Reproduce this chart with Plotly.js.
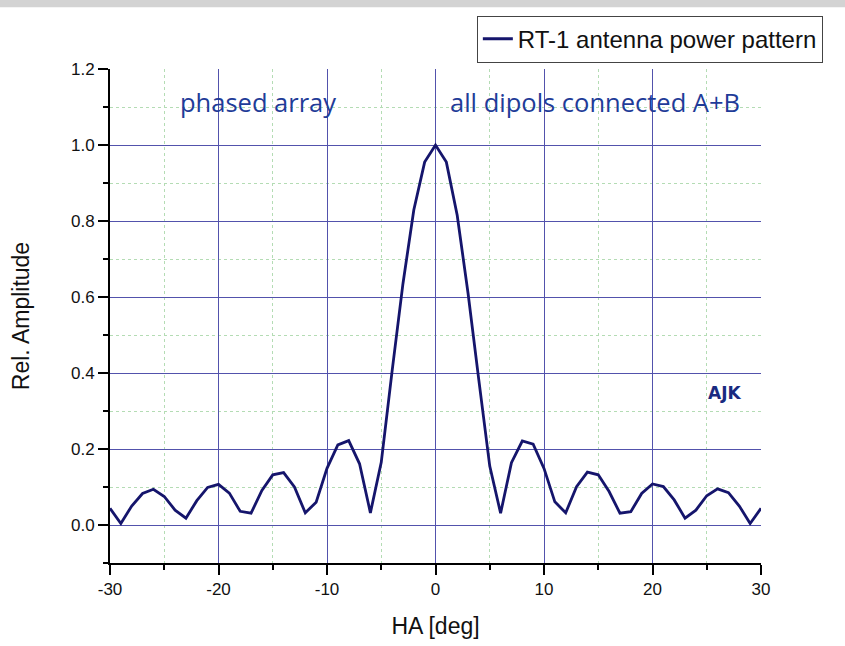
<!DOCTYPE html>
<html>
<head>
<meta charset="utf-8">
<script src="https://cdn.plot.ly/plotly-3.0.1.min.js"></script>
<style>
html,body{margin:0;padding:0;background:#fff;}
#chart{width:845px;height:646px;}
</style>
</head>
<body>
<div id="chart"></div>
<script>
// Hour angle (deg)
const haDeg = [-30,-29,-28,-27,-26,-25,-24,-23,-22,-21,-20,-19,-18,-17,-16,-15,-14,-13,-12,-11,-10,-9,-8,-7,-6,-5,-4,-3,-2,-1,0,1,2,3,4,5,6,7,8,9,10,11,12,13,14,15,16,17,18,19,20,21,22,23,24,25,26,27,28,29,30];
// Relative amplitude
const relAmp = [0.044,0.004,0.050,0.083,0.094,0.075,0.039,0.018,0.064,0.099,0.107,0.084,0.036,0.031,0.091,0.132,0.138,0.100,0.032,0.060,0.149,0.211,0.222,0.161,0.032,0.165,0.405,0.635,0.829,0.955,1.000,0.955,0.815,0.610,0.380,0.155,0.031,0.164,0.221,0.213,0.149,0.061,0.032,0.101,0.139,0.132,0.088,0.031,0.035,0.083,0.108,0.101,0.066,0.018,0.039,0.077,0.095,0.085,0.050,0.004,0.044];
// Tick labels
const xTickVals = [-30,-20,-10,0,10,20,30];
const xTickText = ['-30','-20','-10','0','10','20','30'];
const xMinorVals = [-25,-15,-5,5,15,25];
const yTickVals = [0.0,0.2,0.4,0.6,0.8,1.0,1.2];
const yTickText = ['0.0','0.2','0.4','0.6','0.8','1.0','1.2'];
const yMinorVals = [-0.1,0.1,0.3,0.5,0.7,0.9,1.1];
const seriesName = 'RT-1 antenna power pattern';
const xTitle = 'HA [deg]';
const yTitle = 'Rel. Amplitude';
const labelLeft = 'phased array';
const labelRight = 'all dipols connected A+B';
const labelAuthor = 'AJK';

const majorGrid = '#5252ac';
const minorGrid = '#b4dcb4';
const sans = 'Liberation Sans, Arial, sans-serif';
const axisFont = {family: sans, size: 17, color: '#111'};
const titleFont = {family: sans, size: 23, color: '#111'};

const trace = {
  x: haDeg, y: relAmp, type: 'scatter', mode: 'lines', name: seriesName,
  line: {color: '#15156c', width: 2.8}
};

const layout = {
  width: 845, height: 646,
  margin: {l: 110, r: 84, t: 69, b: 83},
  paper_bgcolor: '#fff', plot_bgcolor: '#fff',
  showlegend: true,
  legend: {
    x: 1.095, xanchor: 'right', y: 1.108, yanchor: 'top',
    bgcolor: '#fff', bordercolor: '#444', borderwidth: 1,
    font: {family: sans, size: 24, color: '#111'},
    itemwidth: 30
  },
  xaxis: {
    range: [-30, 30], tickmode: 'array', tickvals: xTickVals, ticktext: xTickText,
    showline: true, linecolor: '#000', linewidth: 2,
    ticks: 'outside', ticklen: 10, tickwidth: 2, tickcolor: '#000',
    showgrid: true, gridcolor: majorGrid, gridwidth: 1, zeroline: false,
    tickfont: axisFont,
    title: {text: xTitle, font: titleFont, standoff: 19},
    minor: {tickmode: 'array', tickvals: xMinorVals, ticks: 'outside', ticklen: 5, tickwidth: 2, tickcolor: '#000', showgrid: true, gridcolor: minorGrid, griddash: 'dot', gridwidth: 1}
  },
  yaxis: {
    range: [-0.1, 1.2], tickmode: 'array', tickvals: yTickVals, ticktext: yTickText,
    showline: true, linecolor: '#000', linewidth: 2,
    ticks: 'outside', ticklen: 10, tickwidth: 2, tickcolor: '#000',
    showgrid: true, gridcolor: majorGrid, gridwidth: 1, zeroline: false,
    tickfont: axisFont,
    title: {text: yTitle, font: titleFont, standoff: 35},
    minor: {tickmode: 'array', tickvals: yMinorVals, ticks: 'outside', ticklen: 5, tickwidth: 2, tickcolor: '#000', showgrid: true, gridcolor: minorGrid, griddash: 'dot', gridwidth: 1}
  },
  annotations: [
    {x: -16.36, y: 1.112, xref: 'x', yref: 'y', text: labelLeft, showarrow: false,
     font: {family: 'Open Sans, sans-serif', size: 25.5, color: '#1f3c98'}},
    {x: 14.7, y: 1.112, xref: 'x', yref: 'y', text: labelRight, showarrow: false,
     font: {family: 'Open Sans, sans-serif', size: 25.5, color: '#1f3c98'}},
    {x: 26.6, y: 0.347, xref: 'x', yref: 'y', text: '<b>' + labelAuthor + '</b>', showarrow: false,
     font: {family: 'DejaVu Sans, sans-serif', size: 17, color: '#1a2a80'}}
  ],
  shapes: [
    {type: 'rect', xref: 'paper', yref: 'paper', x0: -0.3, x1: 1.3, y0: 1.125, y1: 1.2,
     fillcolor: '#d3d3d3', line: {width: 0}, layer: 'below'}
  ]
};

Plotly.newPlot('chart', [trace], layout, {displayModeBar: false, staticPlot: true});
</script>
</body>
</html>
